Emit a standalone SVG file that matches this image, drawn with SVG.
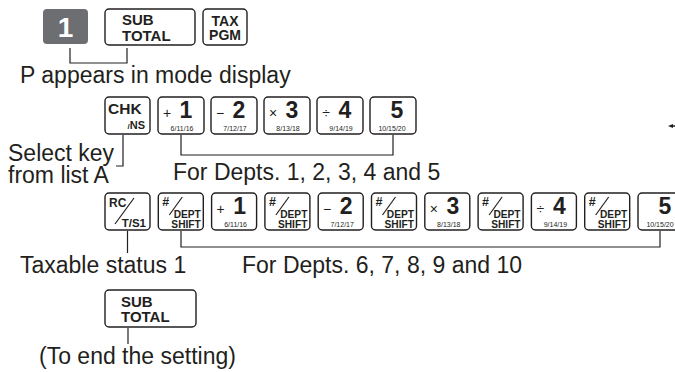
<svg xmlns="http://www.w3.org/2000/svg" width="675" height="372" viewBox="0 0 675 372">
<style>
text{font-family:"Liberation Sans",Arial,Helvetica,sans-serif;fill:#231f20}
.lbl{font-size:23px}
.key{fill:#fff;stroke:#231f20;stroke-width:1.4}
.st{font-size:15px;font-weight:bold}
.op{font-size:14px;text-anchor:middle}
.dg{font-size:23px;font-weight:bold;text-anchor:middle}
.sm{font-size:7px;text-anchor:middle}
.hs{font-size:12.5px;font-weight:bold}
.ds{font-size:10.2px;font-weight:bold;text-anchor:end}
.line{fill:none;stroke:#231f20;stroke-width:1.2}
</style>

<g id="row1">
<g id="key-1"><rect x="43" y="9" width="45" height="35" rx="4" fill="#6d6e71"/><text x="65.5" y="37" font-size="28" font-weight="bold" text-anchor="middle" style="fill:#fff">1</text></g>
<g id="key-subtotal-1"><rect class="key" x="105" y="9" width="90" height="36" rx="4"/><text class="st"><tspan x="122" y="25">SUB</tspan><tspan x="122" y="41">TOTAL</tspan></text></g>
<g id="key-taxpgm"><rect class="key" x="203" y="9" width="44" height="36" rx="4"/><text font-size="14" font-weight="bold" text-anchor="middle"><tspan x="225" y="26">TAX</tspan><tspan x="225" y="40">PGM</tspan></text></g>
</g>

<g id="label-p"><text class="lbl" x="20" y="83">P appears in mode display</text></g>

<g id="row2">
<g id="key-chk"><rect class="key" x="105" y="97" width="45" height="37" rx="4"/><text x="108" y="114" font-size="15.5" font-weight="bold">CHK</text><text x="145" y="129" font-size="11" font-weight="bold" text-anchor="end"><tspan font-size="8">/</tspan>NS</text></g>
<g id="key-r2-1"><rect class="key" x="158" y="97" width="46" height="37" rx="4"/><text class="op" x="167" y="118">+</text><text class="dg" x="186" y="118">1</text><text class="sm" x="182" y="130.5">6/11/16</text></g>
<g id="key-r2-2"><rect class="key" x="211" y="97" width="46" height="37" rx="4"/><text class="op" x="220" y="118">−</text><text class="dg" x="239" y="118">2</text><text class="sm" x="235" y="130.5">7/12/17</text></g>
<g id="key-r2-3"><rect class="key" x="264" y="97" width="46" height="37" rx="4"/><text class="op" x="273" y="118">×</text><text class="dg" x="292" y="118">3</text><text class="sm" x="288" y="130.5">8/13/18</text></g>
<g id="key-r2-4"><rect class="key" x="317" y="97" width="46" height="37" rx="4"/><text class="op" x="326" y="118">÷</text><text class="dg" x="345" y="118">4</text><text class="sm" x="341" y="130.5">9/14/19</text></g>
<g id="key-r2-5"><rect class="key" x="370" y="97" width="46" height="37" rx="4"/><text class="dg" x="397" y="118">5</text><text class="sm" x="392" y="130.5">10/15/20</text></g>
</g>

<g id="label-select"><text class="lbl"><tspan x="8" y="161">Select key</tspan><tspan x="8" y="183">from list A</tspan></text></g>
<g id="label-depts1"><text class="lbl" x="173" y="180">For Depts. 1, 2, 3, 4 and 5</text></g>

<g id="row3">
<g id="key-rc"><rect class="key" x="105" y="193" width="45" height="37" rx="4"/><text x="109" y="207" font-size="12" font-weight="bold">RC</text><line class="line" x1="115" y1="224" x2="134" y2="198"/><text x="146" y="227" font-size="11.5" font-weight="bold" text-anchor="end">T/S1</text></g>
<g id="key-dept-1"><rect class="key" x="158.3" y="193" width="45" height="37" rx="4"/><text class="hs" x="162.3" y="206">#</text><line class="line" x1="169.3" y1="215" x2="182.3" y2="197"/><text class="ds"><tspan x="200.8" y="218">DEPT</tspan><tspan x="200.8" y="228">SHIFT</tspan></text></g>
<g id="key-r3-1"><rect class="key" x="211.6" y="193" width="45" height="37" rx="4"/><text class="op" x="220.6" y="214">+</text><text class="dg" x="239.6" y="214">1</text><text class="sm" x="235.6" y="226.5">6/11/16</text></g>
<g id="key-dept-2"><rect class="key" x="264.9" y="193" width="45" height="37" rx="4"/><text class="hs" x="268.9" y="206">#</text><line class="line" x1="275.9" y1="215" x2="288.9" y2="197"/><text class="ds"><tspan x="307.4" y="218">DEPT</tspan><tspan x="307.4" y="228">SHIFT</tspan></text></g>
<g id="key-r3-2"><rect class="key" x="318.2" y="193" width="45" height="37" rx="4"/><text class="op" x="327.2" y="214">−</text><text class="dg" x="346.2" y="214">2</text><text class="sm" x="342.2" y="226.5">7/12/17</text></g>
<g id="key-dept-3"><rect class="key" x="371.5" y="193" width="45" height="37" rx="4"/><text class="hs" x="375.5" y="206">#</text><line class="line" x1="382.5" y1="215" x2="395.5" y2="197"/><text class="ds"><tspan x="414" y="218">DEPT</tspan><tspan x="414" y="228">SHIFT</tspan></text></g>
<g id="key-r3-3"><rect class="key" x="424.8" y="193" width="45" height="37" rx="4"/><text class="op" x="433.8" y="214">×</text><text class="dg" x="452.8" y="214">3</text><text class="sm" x="448.8" y="226.5">8/13/18</text></g>
<g id="key-dept-4"><rect class="key" x="478.1" y="193" width="45" height="37" rx="4"/><text class="hs" x="482.1" y="206">#</text><line class="line" x1="489.1" y1="215" x2="502.1" y2="197"/><text class="ds"><tspan x="520.6" y="218">DEPT</tspan><tspan x="520.6" y="228">SHIFT</tspan></text></g>
<g id="key-r3-4"><rect class="key" x="531.4" y="193" width="45" height="37" rx="4"/><text class="op" x="540.4" y="214">÷</text><text class="dg" x="559.4" y="214">4</text><text class="sm" x="555.4" y="226.5">9/14/19</text></g>
<g id="key-dept-5"><rect class="key" x="584.7" y="193" width="45" height="37" rx="4"/><text class="hs" x="588.7" y="206">#</text><line class="line" x1="595.7" y1="215" x2="608.7" y2="197"/><text class="ds"><tspan x="627.2" y="218">DEPT</tspan><tspan x="627.2" y="228">SHIFT</tspan></text></g>
<g id="key-r3-5"><rect class="key" x="638" y="193" width="46" height="37" rx="4"/><text class="dg" x="665" y="214">5</text><text class="sm" x="660" y="226.5">10/15/20</text></g>
</g>

<g id="label-taxable"><text class="lbl" x="20" y="273">Taxable status 1</text></g>
<g id="label-depts2"><text class="lbl" x="242" y="273">For Depts. 6, 7, 8, 9 and 10</text></g>

<g id="key-subtotal-2"><rect class="key" x="105" y="290" width="91" height="37" rx="4"/><text class="st"><tspan x="121" y="307">SUB</tspan><tspan x="121" y="322">TOTAL</tspan></text></g>

<g id="label-end"><text class="lbl" x="39" y="364">(To end the setting)</text></g>

<g id="edge-mark"><polygon points="668,126 673,124 673,128" fill="#231f20"/><line x1="672" y1="126" x2="675" y2="126" stroke="#231f20" stroke-width="1.5"/></g>

<g id="connectors">
<path class="line" d="M70 48 V63 H127 V48"/>
<path class="line" d="M181 135 V155 H393 V135"/>
<path class="line" d="M123 135 V166 H116"/>
<path class="line" d="M181 231 V247 H660 V231"/>
<path class="line" d="M127.5 231 V253"/>
<path class="line" d="M128 328 V344"/>
</g>
</svg>
